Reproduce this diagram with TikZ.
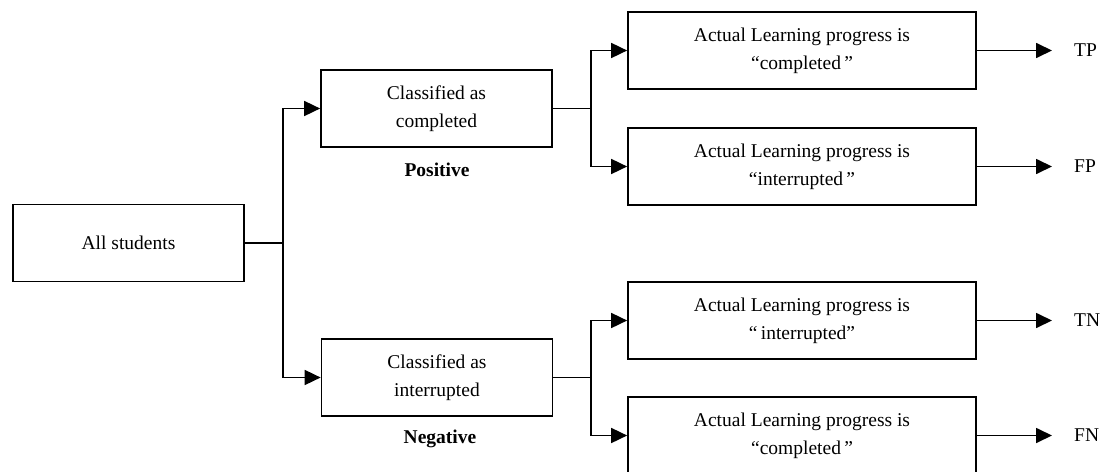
\documentclass[tikz,border=0pt]{standalone}
\usepackage{fontspec}
\setmainfont{Liberation Serif}
\usetikzlibrary{arrows.meta}
\tikzset{
  box/.style={draw, line width=1.7pt, inner sep=0pt, align=center,
    font=\fontsize{19.5}{28}\selectfont},
  smallbox/.style={box, minimum width=231pt, minimum height=77pt},
  bigbox/.style={box, minimum width=348pt, minimum height=77pt},
  lbl/.style={inner sep=0pt, anchor=west, font=\fontsize{19.5}{28}\selectfont},
  blbl/.style={inner sep=0pt, font=\fontsize{19.5}{28}\selectfont\bfseries},
  conn/.style={line width=1.7pt},
  arr/.style={conn, -{Triangle[length=16pt,width=15pt]}}
}
\begin{document}
\begin{tikzpicture}[x=1pt,y=-1pt]
\useasboundingbox (0,0) rectangle (1102,471);
\clip (0,0) rectangle (1102,471);
\node[smallbox] (all) at (128.5,243) {All students};
\node[smallbox] (cpos) at (436.5,108.5) {Classified as\\completed};
\node[smallbox] (cneg) at (437,377.5) {Classified as\\interrupted};
\node[blbl] (pos) at (437,170) {Positive};
\node[blbl] (neg) at (440,439) {Negative};
\node[bigbox] (tp) at (802,50.5) {Actual Learning progress is\\“completed\,”};
\node[bigbox] (fp) at (802,166.5) {Actual Learning progress is\\“interrupted\,”};
\node[bigbox] (tn) at (802,320.5) {Actual Learning progress is\\“\,interrupted”};
\node[bigbox] (fn) at (802,435.5) {Actual Learning progress is\\“completed\,”};
\node[lbl] (ltp) at (1074,50.5) {TP};
\node[lbl] (lfp) at (1074,166.5) {FP};
\node[lbl] (ltn) at (1074,320.5) {TN};
\node[lbl] (lfn) at (1074,435.5) {FN};
\coordinate (j1) at (283,243);
\coordinate (j2) at (591,108.5);
\coordinate (j3) at (591,377.5);
\coordinate (etp) at (1052,50.5);
\coordinate (efp) at (1052,166.5);
\coordinate (etn) at (1052,320.5);
\coordinate (efn) at (1052,435.5);
\draw[conn] (all.east) -- (j1);
\draw[arr] (j1) |- (cpos.west);
\draw[arr] (j1) |- (cneg.west);
\draw[conn] (cpos.east) -- (j2);
\draw[arr] (j2) |- (tp.west);
\draw[arr] (j2) |- (fp.west);
\draw[conn] (cneg.east) -- (j3);
\draw[arr] (j3) |- (tn.west);
\draw[arr] (j3) |- (fn.west);
\draw[arr] (tp.east) -- (etp);
\draw[arr] (fp.east) -- (efp);
\draw[arr] (tn.east) -- (etn);
\draw[arr] (fn.east) -- (efn);
\end{tikzpicture}
\end{document}
